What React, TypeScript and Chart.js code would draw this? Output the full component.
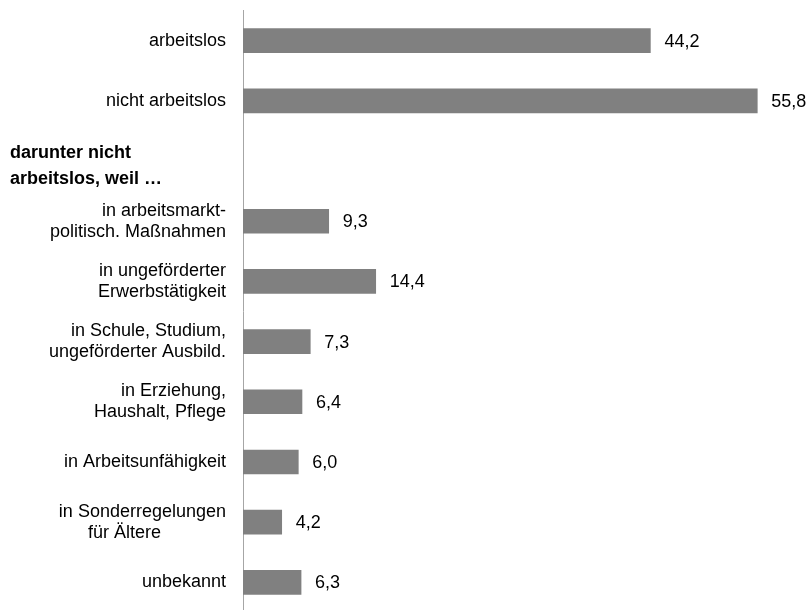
import React, { useEffect, useRef } from "react";
import { Chart, registerables } from "chart.js";

Chart.register(...registerables);

const categories: (string | string[])[] = [
  "arbeitslos",
  "nicht arbeitslos",
  "",
  ["in arbeitsmarkt-", "politisch. Maßnahmen"],
  ["in ungeförderter", "Erwerbstätigkeit"],
  ["in Schule, Studium,", "ungeförderter Ausbild."],
  ["in Erziehung,", "Haushalt, Pflege"],
  "in Arbeitsunfähigkeit",
  ["in Sonderregelungen", "für Ältere             "],
  "unbekannt",
];

const values: (number | null)[] = [44.2, 55.8, null, 9.3, 14.4, 7.3, 6.4, 6.0, 4.2, 6.3];

const headerLines = ["darunter nicht", "arbeitslos, weil …"];

const FONT = "'Liberation Sans', Arial, sans-serif";

const labelPlugin = {
  id: "valueLabels",
  afterDatasetsDraw(chart: any) {
    const ctx = chart.ctx;
    const meta = chart.getDatasetMeta(0);
    ctx.save();
    ctx.font = `18px ${FONT}`;
    ctx.fillStyle = "#000";
    ctx.textAlign = "left";
    ctx.textBaseline = "middle";
    meta.data.forEach((el: any, i: number) => {
      const v = values[i];
      if (v === null || v === undefined) return;
      ctx.fillText(v.toFixed(1).replace(".", ","), el.x + 14, el.y + 1);
    });
    // header in the empty row
    const yScale = chart.scales.y;
    const yc = yScale.getPixelForValue(2);
    ctx.font = `bold 18px ${FONT}`;
    ctx.textBaseline = "alphabetic";
    ctx.fillText(headerLines[0], 10, yc - 3);
    ctx.fillText(headerLines[1], 10, yc + 23);
    ctx.restore();
  },
};

export default function App() {
  const ref = useRef<HTMLCanvasElement | null>(null);
  useEffect(() => {
    if (!ref.current) return;
    const chart = new Chart(ref.current, {
      type: "bar",
      data: {
        labels: categories,
        datasets: [
          {
            data: values,
            backgroundColor: "#808080",
            borderWidth: 0,
            barThickness: 24,
          },
        ],
      },
      options: {
        indexAxis: "y",
        animation: false,
        responsive: false,
        maintainAspectRatio: false,
        layout: { padding: { top: 0, right: 16, bottom: 0, left: 0 } },
        plugins: {
          legend: { display: false },
          tooltip: { enabled: false },
        },
        scales: {
          x: {
            display: false,
            min: 0,
            max: 60,
          },
          y: {
            afterFit: (scale: any) => {
              scale.width = 243;
            },
            grid: {
              display: true,
              drawOnChartArea: false,
              drawTicks: true,
              tickLength: 17,
              color: "rgba(0,0,0,0)",
            },
            border: { display: true, color: "#a6a6a6", width: 1 },
            ticks: {
              padding: 0,
              color: "#000",
              font: { family: FONT, size: 18, lineHeight: 1.17 },
              autoSkip: false,
            },
          },
        },
      },
      plugins: [labelPlugin],
    });
    return () => chart.destroy();
  }, []);
  return (
    <div style={{ position: "fixed", left: 0, top: 0, width: 812, height: 623, background: "#fff" }}>
      <canvas ref={ref} width={812} height={623} style={{ width: 812, height: 623, display: "block" }} />
    </div>
  );
}
